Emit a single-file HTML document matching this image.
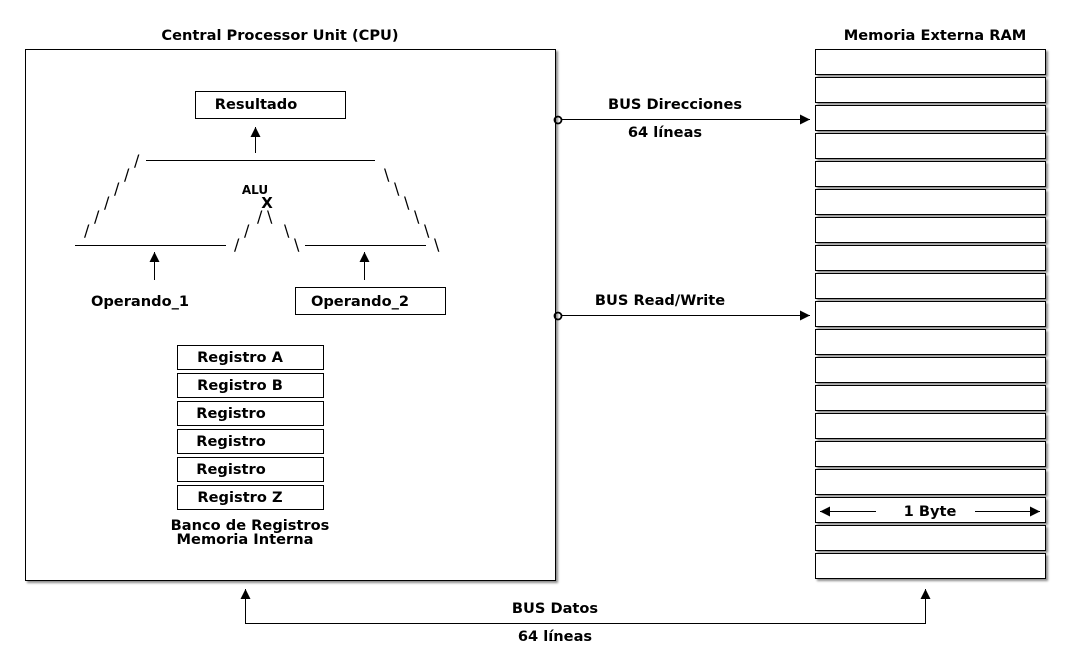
<!DOCTYPE html>
<html><head><meta charset="utf-8"><style>
html,body{margin:0;padding:0;background:#fff;}
svg{display:block;}
text{font-family:"DejaVu Sans","Liberation Sans",sans-serif;font-weight:bold;font-size:14.6px;fill:#000;}
.s{font-weight:normal;font-size:16px;}
</style></head><body>
<svg width="1070" height="672" viewBox="0 0 1070 672" xmlns="http://www.w3.org/2000/svg">
<defs>
<marker id="a" viewBox="0 0 10 10" refX="10" refY="5" markerWidth="10" markerHeight="10" markerUnits="userSpaceOnUse" orient="auto"><path d="M0,0 L10,5 L0,10 z" fill="#000"/></marker>
<filter id="sh" x="-5%" y="-20%" width="110%" height="150%"><feDropShadow dx="2" dy="2" stdDeviation="1" flood-color="#000" flood-opacity="0.45"/></filter>
</defs>
<text x="280" y="40" text-anchor="middle">Central Processor Unit (CPU)</text>
<rect x="25.5" y="49.5" width="530" height="531" fill="#fff" stroke="#000" filter="url(#sh)"/>
<text x="935" y="40" text-anchor="middle">Memoria Externa RAM</text>
<g fill="#fff" stroke="#000" filter="url(#sh)">
<rect x="815.5" y="49.5" width="230" height="25"/><rect x="815.5" y="77.5" width="230" height="25"/>
<rect x="815.5" y="105.5" width="230" height="25"/><rect x="815.5" y="133.5" width="230" height="25"/>
<rect x="815.5" y="161.5" width="230" height="25"/><rect x="815.5" y="189.5" width="230" height="25"/>
<rect x="815.5" y="217.5" width="230" height="25"/><rect x="815.5" y="245.5" width="230" height="25"/>
<rect x="815.5" y="273.5" width="230" height="25"/><rect x="815.5" y="301.5" width="230" height="25"/>
<rect x="815.5" y="329.5" width="230" height="25"/><rect x="815.5" y="357.5" width="230" height="25"/>
<rect x="815.5" y="385.5" width="230" height="25"/><rect x="815.5" y="413.5" width="230" height="25"/>
<rect x="815.5" y="441.5" width="230" height="25"/><rect x="815.5" y="469.5" width="230" height="25"/>
<rect x="815.5" y="497.5" width="230" height="25"/><rect x="815.5" y="525.5" width="230" height="25"/>
<rect x="815.5" y="553.5" width="230" height="25"/>
</g>
<g stroke="#000" fill="none">
<line x1="876" y1="511.5" x2="820" y2="511.5" marker-end="url(#a)"/>
<line x1="975" y1="511.5" x2="1040" y2="511.5" marker-end="url(#a)"/>
</g>
<text x="930" y="516" text-anchor="middle">1 Byte</text>

<rect x="195.5" y="91.5" width="150" height="27" fill="#fff" stroke="#000"/>
<text x="256" y="109" text-anchor="middle">Resultado</text>
<g stroke="#000" fill="none">
<line x1="255.5" y1="153" x2="255.5" y2="127" marker-end="url(#a)"/>
<line x1="146" y1="160.5" x2="375" y2="160.5"/>
<line x1="75" y1="245.5" x2="226" y2="245.5"/>
<line x1="305" y1="245.5" x2="426" y2="245.5"/>
<line x1="154.5" y1="280" x2="154.5" y2="252" marker-end="url(#a)"/>
<line x1="364.5" y1="280" x2="364.5" y2="252" marker-end="url(#a)"/>
</g>
<text class="s" x="134" y="166">/</text>
<text class="s" x="124" y="180">/</text>
<text class="s" x="114" y="194">/</text>
<text class="s" x="104" y="208">/</text>
<text class="s" x="94" y="222">/</text>
<text class="s" x="84" y="236">/</text>
<text class="s" x="384" y="180">\</text>
<text class="s" x="394" y="194">\</text>
<text class="s" x="404" y="208">\</text>
<text class="s" x="414" y="222">\</text>
<text class="s" x="424" y="236">\</text>
<text class="s" x="434" y="250">\</text>
<text class="s" x="234" y="250">/</text>
<text class="s" x="244" y="236">/</text>
<text class="s" x="257" y="222">/</text>
<text class="s" x="267" y="222">\</text>
<text class="s" x="284" y="236">\</text>
<text class="s" x="294" y="250">\</text>
<text x="255" y="194" text-anchor="middle" style="font-size:12px">ALU</text>
<text x="267" y="208" text-anchor="middle" style="font-size:15px">X</text>
<text x="140" y="306" text-anchor="middle">Operando_1</text>
<rect x="295.5" y="287.5" width="150" height="27" fill="#fff" stroke="#000"/>
<text x="360" y="306" text-anchor="middle">Operando_2</text>

<g fill="#fff" stroke="#000">
<rect x="177.5" y="345.5" width="146" height="24"/><rect x="177.5" y="373.5" width="146" height="24"/>
<rect x="177.5" y="401.5" width="146" height="24"/><rect x="177.5" y="429.5" width="146" height="24"/>
<rect x="177.5" y="457.5" width="146" height="24"/><rect x="177.5" y="485.5" width="146" height="24"/>
</g>
<text x="240" y="362" text-anchor="middle">Registro A</text>
<text x="240" y="390" text-anchor="middle">Registro B</text>
<text x="231" y="418" text-anchor="middle">Registro</text>
<text x="231" y="446" text-anchor="middle">Registro</text>
<text x="231" y="474" text-anchor="middle">Registro</text>
<text x="240" y="502" text-anchor="middle">Registro Z</text>
<text x="250" y="530" text-anchor="middle">Banco de Registros</text>
<text x="245" y="544" text-anchor="middle">Memoria Interna</text>

<g stroke="#000" fill="none">
<circle cx="558" cy="120" r="3.5" stroke-width="1.8"/>
<line x1="562" y1="119.5" x2="810" y2="119.5" marker-end="url(#a)"/>
<circle cx="558" cy="316" r="3.5" stroke-width="1.8"/>
<line x1="562" y1="315.5" x2="810" y2="315.5" marker-end="url(#a)"/>
<polyline points="245.5,589 245.5,623.5 925.5,623.5 925.5,589"/>
<line x1="245.5" y1="600" x2="245.5" y2="589" marker-end="url(#a)"/>
<line x1="925.5" y1="600" x2="925.5" y2="589" marker-end="url(#a)"/>
</g>
<text x="675" y="109" text-anchor="middle">BUS Direcciones</text>
<text x="665" y="137" text-anchor="middle">64 líneas</text>
<text x="660" y="305" text-anchor="middle">BUS Read/Write</text>
<text x="555" y="613" text-anchor="middle">BUS Datos</text>
<text x="555" y="641" text-anchor="middle">64 líneas</text>
</svg>
</body></html>
